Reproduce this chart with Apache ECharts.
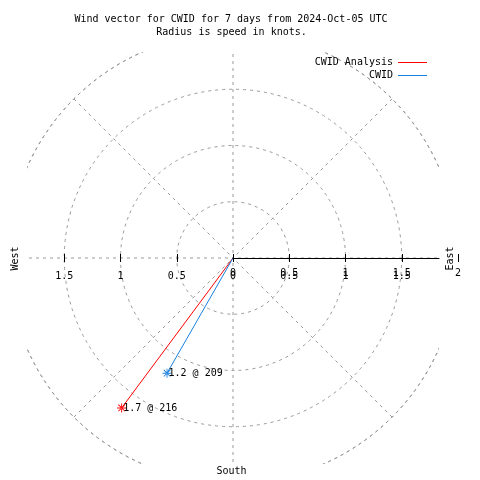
<!DOCTYPE html>
<html><head><meta charset="utf-8">
<script src="https://cdn.jsdelivr.net/npm/echarts@6/dist/echarts.min.js"></script>
<style>html,body{margin:0;padding:0;background:#fff}#c{width:480px;height:480px}</style>
</head><body><div id="c"></div>
<script>
// ---- data ----
const seriesNames = ['CWID Analysis', 'CWID'];
const speeds = [1.66, 1.18];          // knots (radius)
const directions = [216.6, 209.8];    // degrees (compass)
const axisTickValues = [-1.5, -1, -0.5, 0, 0.5, 1, 1.5, 2];
const lowerLabelValues = [-1.5, -1, -0.5, 0, 0.5, 1, 1.5];
const upperLabelValues = [0, 0.5, 1, 1.5, 2];
const titleLines = ['Wind vector for CWID for 7 days from 2024-Oct-05 UTC', 'Radius is speed in knots.'];
const compassLabels = ['West', 'East', 'South'];

// ---- styles / layout ----
const FONT = 'DejaVu Sans Mono';
const FS = 10;
const colors = ['#ff0000', '#1a80e0'];
const grey = '#999999';
const DASH = [3, 4];
const CX = 233, CY = 258, R = 225, HALF = 206;
const asterisk = 'path://M4.5,0H5.5V10H4.5Z M0,4.5H10V5.5H0Z M1,1.7L1.7,1L9,8.3L8.3,9Z M9,1.7L8.3,1L1,8.3L1.7,9Z';

const chart = echarts.init(document.getElementById('c'), null, {renderer: 'canvas'});

const txt = (text, x, y, rot) => ({
  type: 'text', z: 20, x, y, rotation: rot || 0,
  style: {text, x: 0, y: 0, fill: '#000', font: FS + 'px "' + FONT + '"', align: 'center', verticalAlign: 'middle'}
});

const tickAxis = (inside, labels, margin) => ({
  gridIndex: 0, type: 'value', min: -2, max: 2, interval: 0.5, position: 'bottom', offset: 0, z: 10,
  axisLine: {show: false, onZero: false},
  splitLine: {show: false},
  axisTick: {show: true, inside, length: 4, customValues: axisTickValues, lineStyle: {color: '#000', width: 1}},
  axisLabel: {show: true, customValues: labels, margin, showMinLabel: true, showMaxLabel: true,
    formatter: v => String(Math.abs(v)), color: '#000', fontFamily: FONT, fontSize: FS}
});

chart.setOption({
  animation: false,
  backgroundColor: '#fff',
  polar: {center: [CX, CY], radius: R},
  angleAxis: {
    type: 'value', min: 0, max: 360, interval: 45, startAngle: 90, clockwise: true, z: 0,
    axisLine: {show: true, lineStyle: {color: grey, type: DASH, width: 1}},
    axisTick: {show: false}, axisLabel: {show: false},
    splitLine: {show: true, lineStyle: {color: grey, type: DASH, width: 1}}
  },
  radiusAxis: {
    type: 'value', min: 0, max: 2, interval: 0.5, z: 0,
    axisLine: {show: false}, axisTick: {show: false}, axisLabel: {show: false},
    splitLine: {show: true, lineStyle: {color: grey, type: DASH, width: 1}}
  },
  grid: [
    {left: CX - R, width: 2 * R, top: CY - 50, height: 50, outerBoundsMode: 'none'},
    {left: CX, width: HALF, top: CY - 50, height: 50, outerBoundsMode: 'none'}
  ],
  xAxis: [
    tickAxis(false, lowerLabelValues, 13),
    tickAxis(true, upperLabelValues, 10),
    {gridIndex: 1, type: 'value', min: 0, max: HALF / R * 2, position: 'bottom', z: 10,
      axisLine: {show: true, onZero: false, lineStyle: {color: '#000', width: 1}},
      axisTick: {show: false}, axisLabel: {show: false}, splitLine: {show: false}}
  ],
  yAxis: [
    {gridIndex: 0, type: 'value', min: 0, max: 1, show: false},
    {gridIndex: 1, type: 'value', min: 0, max: 1, show: false}
  ],
  legend: {
    data: seriesNames, orient: 'vertical', right: 48, top: 52.5, align: 'right', z: 20,
    icon: 'rect', itemWidth: 29, itemHeight: 1, itemGap: 3,
    textStyle: {color: '#000', fontFamily: FONT, fontSize: FS}
  },
  graphic: [
    {type: 'rect', z: 5, silent: true, shape: {x: 0, y: 0, width: 480, height: CY - HALF}, style: {fill: '#fff'}},
    {type: 'rect', z: 5, silent: true, shape: {x: 0, y: CY + HALF, width: 480, height: 480}, style: {fill: '#fff'}},
    {type: 'rect', z: 5, silent: true, shape: {x: 0, y: 0, width: CX - HALF, height: 480}, style: {fill: '#fff'}},
    {type: 'rect', z: 5, silent: true, shape: {x: CX + HALF, y: 0, width: 480, height: 480}, style: {fill: '#fff'}},
    txt(titleLines[0], 231, 19),
    txt(titleLines[1], 231.5, 32),
    txt(compassLabels[0], 15.5, 258.5, Math.PI / 2),
    txt(compassLabels[1], 450, 258.5, Math.PI / 2),
    txt(compassLabels[2], 231.5, 471)
  ],
  series: seriesNames.map((name, i) => ({
    name, type: 'line', coordinateSystem: 'polar', polarIndex: 0, z: 8,
    showSymbol: true, symbol: asterisk, symbolSize: 9,
    lineStyle: {color: colors[i], width: 1},
    itemStyle: {color: colors[i]},
    data: [
      {value: [0, directions[i]], symbol: 'none'},
      {value: [speeds[i], directions[i]],
        label: {show: true, position: 'right', distance: -3, color: '#000', fontFamily: FONT, fontSize: FS,
          formatter: () => speeds[i].toFixed(1) + ' @ ' + Math.floor(directions[i])}}
    ]
  }))
});
</script>
</body></html>
